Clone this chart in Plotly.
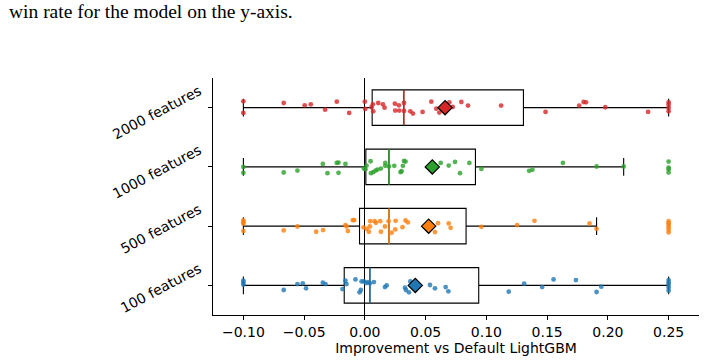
import plotly.graph_objects as go

# ---------------- data ----------------
categories = ["100 features", "500 features", "1000 features", "2000 features"]
colors = ["#1f77b4", "#ff7f0e", "#2ca02c", "#d62728"]

q1 = [-0.017, -0.0044, 0.0008, 0.006]
medians = [0.0041, 0.0198, 0.0198, 0.032]
q3 = [0.0937, 0.0833, 0.091, 0.1305]
lower_whisker = [-0.1, -0.1, -0.1, -0.1]
upper_whisker = [0.25, 0.1907, 0.213, 0.25]
means = [0.0415, 0.0525, 0.0555, 0.066]

pts_100 = [-0.1, -0.1, -0.1, -0.0668, -0.0555, -0.0511, -0.0484, -0.0346, -0.0324, -0.0184,
           -0.016, -0.0151, -0.0077, -0.0044, -0.0033, -0.0027, -0.0008, 0.0011, 0.0025, 0.0041,
           0.0074, 0.0165, 0.0179, 0.033, 0.0338, 0.0363, 0.0374, 0.0536, 0.0577, 0.0665,
           0.0687, 0.1184, 0.1311, 0.1459, 0.1553, 0.1737, 0.1907, 0.1946, 0.25, 0.25,
           0.25, 0.25, 0.25]
jit_100 = [0.078, 0.045, 0.011, -0.078, 0.022, 0.034, -0.05, 0.045, 0.022, -0.062,
           0.078, 0.022, 0.1, -0.118, -0.078, 0.067, 0.067, 0.039, 0.056, 0.034,
           0.056, -0.028, 0.0, -0.039, -0.078, -0.118, 0.067, 0.006, -0.05, -0.028,
           -0.1, -0.106, 0.028, -0.028, 0.1, 0.09, -0.112, -0.022, 0.09, 0.05,
           0.011, -0.034, -0.09]

pts_500 = [-0.1, -0.1, -0.1, -0.1, -0.0668, -0.0555, -0.0401, -0.0344, -0.016, -0.0151,
           -0.014, -0.0099, -0.0088, -0.0011, 0.0014, 0.0033, 0.0041, 0.0044, 0.008, 0.0091,
           0.0126, 0.0132, 0.0165, 0.0195, 0.022, 0.025, 0.0253, 0.031, 0.0335, 0.0354,
           0.0577, 0.0602, 0.069, 0.0706, 0.0959, 0.1253, 0.1396, 0.1849, 0.1907, 0.25,
           0.25, 0.25, 0.25, 0.25, 0.25]
jit_500 = [0.095, 0.067, 0.039, -0.084, -0.073, -0.006, -0.095, -0.067, 0.017, -0.006,
           -0.084, 0.1, 0.1, -0.022, -0.045, -0.095, -0.006, 0.084, 0.084, 0.056,
           0.084, -0.095, -0.006, 0.084, -0.112, -0.056, 0.09, -0.017, 0.095, 0.062,
           -0.1, 0.05, 0.045, -0.028, -0.011, 0.017, 0.09, 0.045, -0.045, 0.084,
           0.05, 0.017, -0.017, -0.062, -0.106]

pts_1000 = [-0.1, -0.1, -0.0668, -0.0555, -0.0346, -0.0308, -0.0231, -0.0217, -0.0217, -0.016,
            -0.0008, 0.0005, 0.0014, 0.0047, 0.005, 0.0069, 0.0088, 0.0104, 0.0132, 0.0168,
            0.0168, 0.0198, 0.0242, 0.0294, 0.0302, 0.0313, 0.0322, 0.0335, 0.0624, 0.069,
            0.0742, 0.0783, 0.086, 0.0959, 0.1352, 0.1379, 0.163, 0.1907, 0.213, 0.25,
            0.25, 0.25, 0.25]
jit_1000 = [0.0, -0.1, -0.095, -0.062, 0.05, -0.106, 0.067, 0.073, -0.1, 0.05,
            -0.028, -0.039, 0.022, 0.095, -0.106, -0.09, -0.062, -0.045, -0.028, 0.067,
            0.017, 0.006, 0.017, -0.09, -0.073, 0.017, 0.1, 0.09, 0.067, 0.022,
            0.084, -0.106, 0.067, -0.034, -0.067, -0.05, 0.067, 0.006, 0.006, 0.09,
            -0.011, -0.039, -0.095]

pts_2000 = [-0.1, -0.1, -0.0668, -0.0495, -0.0445, -0.0327, -0.0231, -0.0129, 0.0, 0.0003,
            0.0055, 0.0066, 0.0069, 0.011, 0.0148, 0.0162, 0.0247, 0.025, 0.028, 0.0283,
            0.0322, 0.0322, 0.0374, 0.0396, 0.0475, 0.0547, 0.0588, 0.0613, 0.0695, 0.0723,
            0.0794, 0.0849, 0.1121, 0.1487, 0.1764, 0.18, 0.182, 0.1979, 0.2331, 0.25,
            0.25, 0.25, 0.25]
jit_2000 = [0.106, -0.09, 0.078, 0.039, 0.056, -0.034, 0.1, -0.09, 0.1, -0.022,
            0.006, 0.056, -0.062, 0.078, 0.056, 0.0, 0.067, -0.05, 0.039, -0.05,
            0.078, -0.056, -0.062, -0.1, -0.073, 0.1, -0.017, -0.084, 0.09, 0.011,
            0.095, 0.034, 0.034, -0.073, 0.034, 0.095, 0.09, 0.006, -0.073, 0.09,
            0.05, -0.006, -0.062]

points = [pts_100, pts_500, pts_1000, pts_2000]
jitters = [jit_100, jit_500, jit_1000, jit_2000]

x_ticks = [-0.10, -0.05, 0.00, 0.05, 0.10, 0.15, 0.20, 0.25]
x_title = "Improvement vs Default LightGBM"
caption = "win rate for the model on the y-axis."

# ---------------- figure ----------------
BOX_W = 0.6
FONT = "DejaVu Sans"
fig = go.Figure()

for i in range(len(categories)):
    fig.add_trace(go.Box(
        y=[i], q1=[q1[i]], median=[medians[i]], q3=[q3[i]],
        lowerfence=[lower_whisker[i]], upperfence=[upper_whisker[i]],
        orientation="h", width=BOX_W, whiskerwidth=0.5,
        line=dict(color="black", width=1.1), fillcolor="rgba(255,255,255,0)",
        boxpoints=False, hoverinfo="skip", showlegend=False,
    ))

for i in range(len(categories)):
    # colored median line
    fig.add_trace(go.Scatter(
        x=[medians[i], medians[i]], y=[i - BOX_W / 2, i + BOX_W / 2],
        mode="lines", line=dict(color=colors[i], width=1.6),
        opacity=0.85, showlegend=False, hoverinfo="skip",
    ))
    # jittered points
    fig.add_trace(go.Scatter(
        x=points[i], y=[i + j for j in jitters[i]],
        mode="markers", marker=dict(color=colors[i], size=4.8, opacity=0.8, line=dict(width=0)),
        showlegend=False, hoverinfo="skip", cliponaxis=False,
    ))
    # mean diamond
    fig.add_trace(go.Scatter(
        x=[means[i]], y=[i], mode="markers",
        marker=dict(symbol="diamond", size=11, color=colors[i], line=dict(color="black", width=1.2)),
        showlegend=False, hoverinfo="skip",
    ))

fig.update_layout(
    width=706, height=362,
    margin=dict(l=213, r=7, t=78, b=47, pad=0),
    plot_bgcolor="white", paper_bgcolor="white",
    font=dict(family=FONT, size=14, color="black"),
    xaxis=dict(
        range=[-0.125, 0.275], tickvals=x_ticks, tickformat=".2f",
        showgrid=False, zeroline=True, zerolinecolor="black", zerolinewidth=1,
        showline=True, linecolor="black", linewidth=1,
        ticks="outside", ticklen=4, tickcolor="black", tickfont=dict(size=14),
        title=dict(text=x_title, font=dict(size=14), standoff=3),
    ),
    yaxis=dict(
        range=[-0.5, 3.5], tickvals=list(range(len(categories))), ticktext=categories,
        tickangle=-28, showgrid=False, zeroline=False,
        showline=True, linecolor="black", linewidth=1,
        ticks="outside", ticklen=4, tickcolor="black", tickfont=dict(size=14),
        ticklabelshift=-18, ticklabelstandoff=6,
    ),
    annotations=[dict(
        text=caption, xref="paper", yref="paper", x=-0.424, y=1.279,
        xanchor="left", yanchor="middle", showarrow=False,
        font=dict(family="Liberation Serif", size=19.5, color="black"),
    )],
)

fig.write_html("out.html")
